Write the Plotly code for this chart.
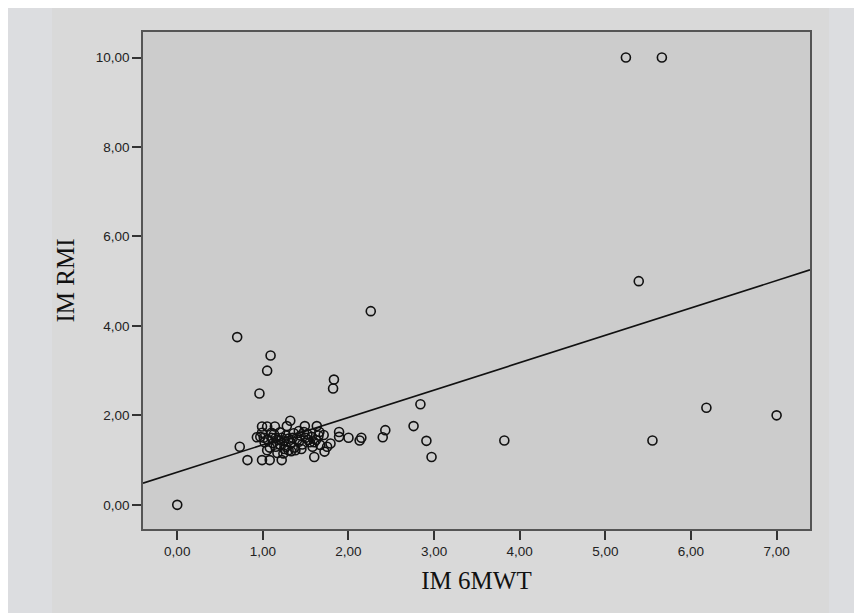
import plotly.graph_objects as go

# ---- data ----
im_6mwt = [
    0.00, 0.70, 0.73, 0.82, 0.96, 1.05, 1.09, 1.83, 1.82, 2.26,
    2.84, 2.76, 2.43, 2.40, 2.91, 2.97, 3.82, 5.24, 5.66, 5.39,
    6.18, 7.00, 5.55, 2.15, 2.13, 2.00, 1.89, 1.89,
    0.99, 1.08, 1.22, 0.93, 0.97,
    0.99, 1.05, 1.14, 1.28, 1.32, 1.49, 1.63,
    0.99, 1.10, 1.48, 1.66, 1.57, 1.71,
    1.79, 1.75, 1.72, 1.60, 1.24, 1.38, 1.42, 1.53, 1.67,
    1.05, 1.17, 1.30,
    1.02, 1.06, 1.10, 1.12, 1.15, 1.18, 1.20, 1.22, 1.25, 1.27,
    1.30, 1.33, 1.35, 1.37, 1.40, 1.44, 1.46, 1.50, 1.55, 1.58,
    1.62, 1.65, 1.13, 1.20, 1.27, 1.36, 1.42, 1.08, 1.01, 1.15,
    1.25, 1.45, 1.33, 1.52, 1.60,
]
im_rmi = [
    0.00, 3.75, 1.30, 1.00, 2.49, 3.00, 3.34, 2.80, 2.60, 4.33,
    2.25, 1.76, 1.67, 1.51, 1.43, 1.07, 1.44, 10.00, 10.00, 5.00,
    2.17, 2.00, 1.44, 1.50, 1.44, 1.50, 1.63, 1.52,
    1.00, 1.00, 1.00, 1.51, 1.52,
    1.75, 1.75, 1.75, 1.76, 1.88, 1.76, 1.76,
    1.61, 1.61, 1.63, 1.63, 1.52, 1.56,
    1.37, 1.30, 1.19, 1.07, 1.15, 1.22, 1.41, 1.45, 1.34,
    1.22, 1.16, 1.22,
    1.40, 1.45, 1.50, 1.38, 1.30, 1.45, 1.35, 1.50, 1.42, 1.30,
    1.48, 1.38, 1.50, 1.28, 1.45, 1.55, 1.35, 1.50, 1.40, 1.30,
    1.45, 1.55, 1.58, 1.62, 1.55, 1.60, 1.65, 1.28, 1.50, 1.50,
    1.25, 1.25, 1.20, 1.58, 1.40,
]

# linear fit line
fit_intercept = 0.73
fit_slope = 0.612
fit_x = [-0.40, 7.39]

x_tickvals = [0, 1, 2, 3, 4, 5, 6, 7]
x_ticktext = ["0,00", "1,00", "2,00", "3,00", "4,00", "5,00", "6,00", "7,00"]
y_tickvals = [0, 2, 4, 6, 8, 10]
y_ticktext = ["0,00", "2,00", "4,00", "6,00", "8,00", "10,00"]

x_title = "IM 6MWT"
y_title = "IM RMI"

# ---- figure (page body adds an 8 px offset) ----
OFF = 8
W, H = 862 - OFF, 613 - OFF
L, R, T, B = 143 - OFF, 52, 32 - OFF, 84
pw, ph = W - L - R, H - T - B


def px_x(p):
    return (p - OFF - L) / pw


def px_y(q):
    return (H - B - (q - OFF)) / ph


fig = go.Figure()

fig.add_trace(go.Scatter(
    x=fit_x,
    y=[fit_intercept + fit_slope * v for v in fit_x],
    mode="lines",
    line=dict(color="#111111", width=1.6),
    hoverinfo="skip",
    showlegend=False,
))

fig.add_trace(go.Scatter(
    x=im_6mwt, y=im_rmi,
    mode="markers",
    marker=dict(symbol="circle-open", size=9, color="#111111",
                line=dict(width=1.6, color="#111111")),
    showlegend=False,
))

shapes = [
    # lighter left band
    dict(type="rect", xref="paper", yref="paper", layer="below",
         x0=px_x(OFF), x1=px_x(52), y0=px_y(613), y1=px_y(OFF),
         fillcolor="#dcdde0", line=dict(width=0)),
    # lighter right band
    dict(type="rect", xref="paper", yref="paper", layer="below",
         x0=px_x(829), x1=px_x(862), y0=px_y(613), y1=px_y(OFF),
         fillcolor="#dcdde0", line=dict(width=0)),
]

axis_common = dict(
    showgrid=False, zeroline=False,
    showline=True, linecolor="#555555", linewidth=1.5, mirror=True,
    ticks="outside", ticklen=9, tickwidth=2, tickcolor="#333333",
    tickfont=dict(family="Liberation Sans, Arial, sans-serif", size=13.5, color="#222222"),
    tickmode="array",
)

fig.update_layout(
    width=W, height=H,
    margin=dict(l=L, r=R, t=T, b=B),
    paper_bgcolor="#d9d9d9",
    plot_bgcolor="#cccccc",
    shapes=shapes,
    xaxis=dict(
        range=[-0.40, 7.39],
        tickvals=x_tickvals, ticktext=x_ticktext,
        title=dict(text=x_title, standoff=14,
                   font=dict(family="Liberation Serif, Times New Roman, serif", size=25, color="#111111")),
        **axis_common,
    ),
    yaxis=dict(
        range=[-0.54, 10.57],
        tickvals=y_tickvals, ticktext=y_ticktext,
        title=dict(text=y_title, standoff=14,
                   font=dict(family="Liberation Serif, Times New Roman, serif", size=25, color="#111111")),
        **axis_common,
    ),
)

fig.write_html("out.html")
